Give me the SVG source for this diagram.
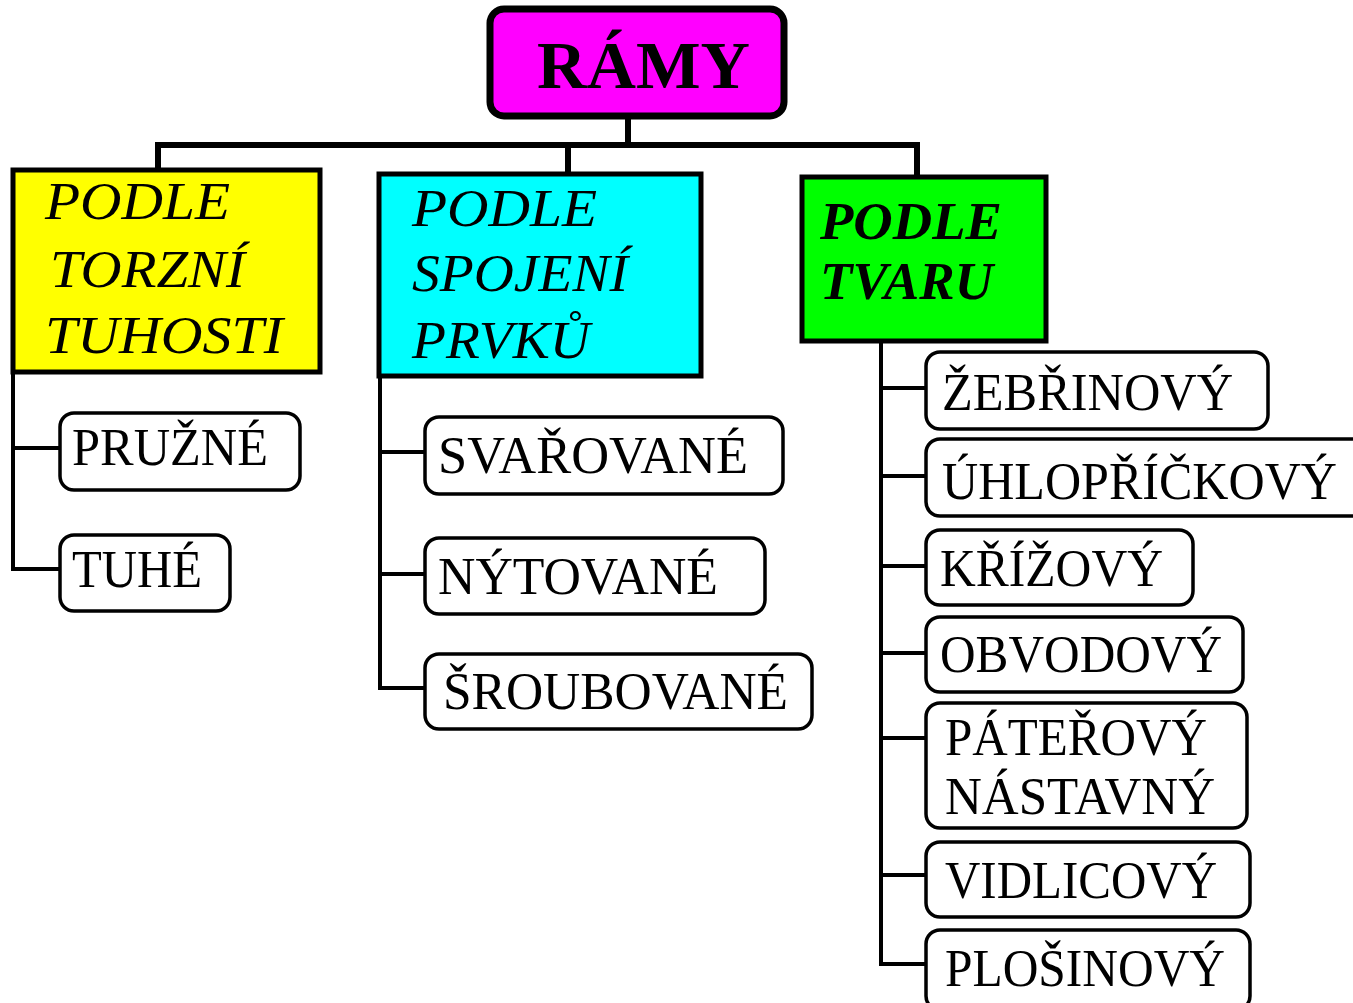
<svg xmlns="http://www.w3.org/2000/svg" width="1353" height="1003" viewBox="0 0 1353 1003">
<style>
.conn{fill:none;stroke:#000;stroke-width:4;stroke-linecap:square;stroke-linejoin:miter}
.main{stroke-width:6}
.leaf{fill:#fff;stroke:#000;stroke-width:3.5}
.cat{stroke:#000;stroke-width:5}
.lt{font-family:"Liberation Serif","Times New Roman",serif;font-size:52px;fill:#000}
.ct{font-family:"Liberation Serif","Times New Roman",serif;font-size:52px;font-style:italic;fill:#000}
.cb{font-weight:bold}
</style>
<rect width="1353" height="1003" fill="#fff"/>
<g id="connectors">
<path class="conn main" d="M628 117V145M158 145H917M158 145V170M568 145V173M917 145V177"/>
<path class="conn" d="M13 372V569H60M13 448H60"/>
<path class="conn" d="M380 377V688H425M380 452H425M380 574H425"/>
<path class="conn" d="M881 342V964H926M881 388H926M881 476H926M881 566H926M881 653H926M881 738H926M881 875H926"/>
</g>
<g id="ramy">
<rect x="490" y="9" width="294" height="107" rx="14" fill="#ff00ff" stroke="#000" stroke-width="7"/>
<text x="537" y="88" font-family="Liberation Serif,serif" font-weight="bold" font-size="68" textLength="213" lengthAdjust="spacingAndGlyphs">RÁMY</text>
</g>
<g id="cat-torzni">
<rect class="cat" x="13" y="170" width="307" height="202" fill="#ffff00"/>
<text class="ct" x="45" y="219" textLength="185" lengthAdjust="spacingAndGlyphs">PODLE</text>
<text class="ct" x="50" y="287" textLength="195" lengthAdjust="spacingAndGlyphs">TORZNÍ</text>
<text class="ct" x="45" y="353" textLength="238" lengthAdjust="spacingAndGlyphs">TUHOSTI</text>
</g>
<g id="cat-spojeni">
<rect class="cat" x="379" y="174" width="322" height="202" fill="#00ffff"/>
<text class="ct" x="412" y="226" textLength="185" lengthAdjust="spacingAndGlyphs">PODLE</text>
<text class="ct" x="412" y="291" textLength="216" lengthAdjust="spacingAndGlyphs">SPOJENÍ</text>
<text class="ct" x="412" y="358" textLength="178" lengthAdjust="spacingAndGlyphs">PRVKŮ</text>
</g>
<g id="cat-tvaru">
<rect class="cat" x="802" y="177" width="244" height="164" fill="#00ff00"/>
<text class="ct cb" x="820" y="239" textLength="182" lengthAdjust="spacingAndGlyphs">PODLE</text>
<text class="ct cb" x="820" y="299" textLength="173" lengthAdjust="spacingAndGlyphs">TVARU</text>
</g>
<g id="pruzne"><rect class="leaf" x="60" y="413" width="240" height="77" rx="14"/><text class="lt" x="72" y="465" textLength="196" lengthAdjust="spacingAndGlyphs">PRUŽNÉ</text></g>
<g id="tuhe"><rect class="leaf" x="60" y="535" width="170" height="76" rx="14"/><text class="lt" x="72" y="587" textLength="130" lengthAdjust="spacingAndGlyphs">TUHÉ</text></g>
<g id="svarovane"><rect class="leaf" x="425" y="417" width="358" height="77" rx="14"/><text class="lt" x="438" y="473" textLength="310" lengthAdjust="spacingAndGlyphs">SVAŘOVANÉ</text></g>
<g id="nytovane"><rect class="leaf" x="425" y="538" width="340" height="76" rx="14"/><text class="lt" x="438" y="594" textLength="280" lengthAdjust="spacingAndGlyphs">NÝTOVANÉ</text></g>
<g id="sroubovane"><rect class="leaf" x="425" y="654" width="387" height="75" rx="14"/><text class="lt" x="443" y="709" textLength="345" lengthAdjust="spacingAndGlyphs">ŠROUBOVANÉ</text></g>
<g id="zebrinovy"><rect class="leaf" x="926" y="352" width="342" height="77" rx="14"/><text class="lt" x="942" y="410" textLength="291" lengthAdjust="spacingAndGlyphs">ŽEBŘINOVÝ</text></g>
<g id="uhlopric"><rect class="leaf" x="926" y="439" width="440" height="77" rx="14"/><text class="lt" x="942" y="499" textLength="395" lengthAdjust="spacingAndGlyphs">ÚHLOPŘÍČKOVÝ</text></g>
<g id="krizovy"><rect class="leaf" x="926" y="530" width="267" height="75" rx="14"/><text class="lt" x="940" y="586" textLength="223" lengthAdjust="spacingAndGlyphs">KŘÍŽOVÝ</text></g>
<g id="obvodovy"><rect class="leaf" x="926" y="617" width="317" height="75" rx="14"/><text class="lt" x="940" y="672" textLength="282" lengthAdjust="spacingAndGlyphs">OBVODOVÝ</text></g>
<g id="paterovy"><rect class="leaf" x="926" y="703" width="321" height="125" rx="14"/><text class="lt" x="945" y="755" textLength="262" lengthAdjust="spacingAndGlyphs">PÁTEŘOVÝ</text><text class="lt" x="945" y="814" textLength="270" lengthAdjust="spacingAndGlyphs">NÁSTAVNÝ</text></g>
<g id="vidlicovy"><rect class="leaf" x="926" y="842" width="324" height="75" rx="14"/><text class="lt" x="945" y="898" textLength="272" lengthAdjust="spacingAndGlyphs">VIDLICOVÝ</text></g>
<g id="plosinovy"><rect class="leaf" x="926" y="930" width="324" height="80" rx="14"/><text class="lt" x="945" y="986" textLength="280" lengthAdjust="spacingAndGlyphs">PLOŠINOVÝ</text></g>
</svg>
